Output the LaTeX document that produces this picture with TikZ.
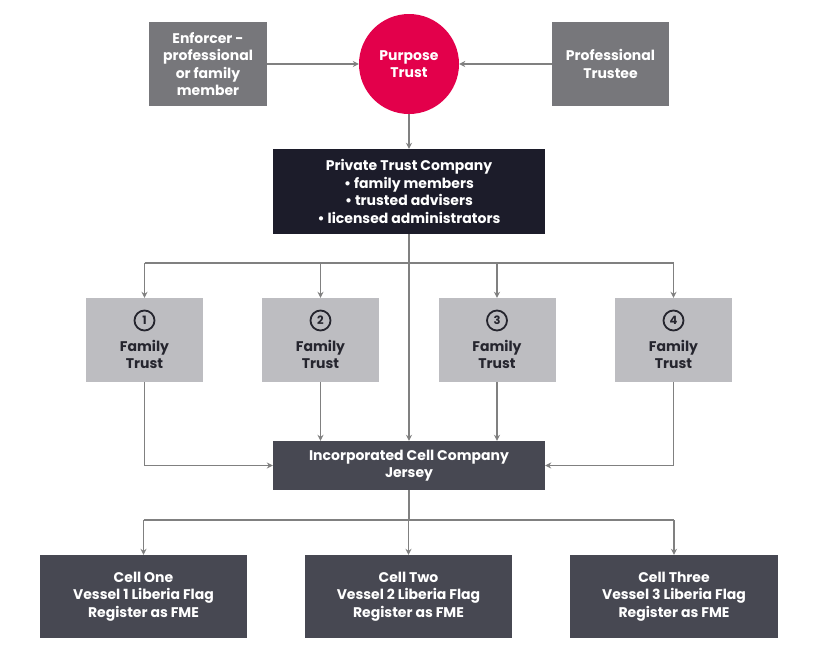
\documentclass[tikz,border=0pt]{standalone}
\usepackage{fontspec}
\setmainfont{Poppins}
\usetikzlibrary{arrows.meta}
\definecolor{ptred}{HTML}{E3004B}
\definecolor{midgray}{HTML}{77777B}
\definecolor{navy}{HTML}{1C1C2A}
\definecolor{lightgray}{HTML}{BDBDC1}
\definecolor{slate}{HTML}{474852}
\definecolor{linegray}{HTML}{808080}
\definecolor{darktext}{HTML}{25252E}
\tikzset{
  txt/.style={font=\bfseries\fontsize{14}{17.4}\selectfont, align=center},
  boxbase/.style={rectangle, inner sep=0pt, txt},
  graybox/.style={boxbase, fill=midgray, text=white, minimum width=118pt, minimum height=84pt},
  navybox/.style={boxbase, fill=navy, text=white, minimum width=272pt, minimum height=85pt},
  ftbox/.style={boxbase, fill=lightgray, minimum width=117pt, minimum height=84pt},
  icbox/.style={boxbase, fill=slate, text=white, minimum width=272pt, minimum height=49pt},
  cellbox/.style={boxbase, fill=slate, text=white, minimum width=207pt, minimum height=83pt},
  numcirc/.style={circle, draw=darktext, line width=1.8pt, minimum size=20pt, inner sep=0pt, text=darktext, font=\bfseries\fontsize{11.5}{11.5}\selectfont},
  fttext/.style={txt, text=darktext},
  conn/.style={draw=linegray, line width=1.4pt, -{Stealth[length=6pt,width=6pt]}},
  plain/.style={draw=linegray, line width=1.4pt}
}
\begin{document}
\begin{tikzpicture}[x=1pt,y=-1pt]
\useasboundingbox (0,0) rectangle (818,654);
\fill[white] (0,0) rectangle (818,654);
% top row
\node[graybox] (enf) at (208,64) {Enforcer -\\professional\\or family\\member};
\node[circle, fill=ptred, minimum size=100pt, inner sep=0pt, txt, text=white] (pt) at (409,64) {Purpose\\Trust};
\node[graybox, minimum width=117pt] (prof) at (610.5,64) {Professional\\Trustee};
\draw[conn] (enf.east) -- (pt.west);
\draw[conn] (prof.west) -- (pt.east);
% PTC
\node[navybox] (ptc) at (409,191.5) {Private Trust Company\\• family members\\• trusted advisers\\• licensed administrators};
\draw[conn] (pt.south) -- (ptc.north);
% family trusts
\foreach \i/\x in {1/144.5, 2/320.5, 3/497, 4/673.5}{
  \node[ftbox] (ft\i) at (\x,340) {};
  \node[numcirc] (num\i) at (\x,320.5) {\i};
  \node[fttext] (ftt\i) at (\x,354.5) {Family\\Trust};
}
\coordinate (bus1) at (409,263);
\draw[plain] (ptc.south) -- (bus1);
\draw[plain] (ft1.north |- bus1) -- (ft4.north |- bus1);
\foreach \i in {1,2,3,4}{
  \draw[conn] (ft\i.north |- bus1) -- (ft\i.north);
}
% ICC
\node[icbox] (icc) at (409,465.5) {Incorporated Cell Company\\Jersey};
\draw[conn] (ptc.south) -- (icc.north);
\draw[conn] (ft1.south) |- (icc.west);
\draw[conn] (ft4.south) |- (icc.east);
\draw[conn] (ft2.south) -- (ft2.south |- icc.north);
\draw[conn] (ft3.south) -- (ft3.south |- icc.north);
% cells
\node[cellbox] (c1) at (143.5,596.5) {Cell One\\Vessel 1 Liberia Flag\\Register as FME};
\node[cellbox] (c2) at (408.5,596.5) {Cell Two\\Vessel 2 Liberia Flag\\Register as FME};
\node[cellbox, minimum width=208pt] (c3) at (674,596.5) {Cell Three\\Vessel 3 Liberia Flag\\Register as FME};
\coordinate (bus2) at (409,520);
\draw[plain] (icc.south) -- (bus2);
\draw[plain] (c1.north |- bus2) -- (c3.north |- bus2);
\foreach \i in {1,2,3}{
  \draw[conn] (c\i.north |- bus2) -- (c\i.north);
}
\end{tikzpicture}
\end{document}
